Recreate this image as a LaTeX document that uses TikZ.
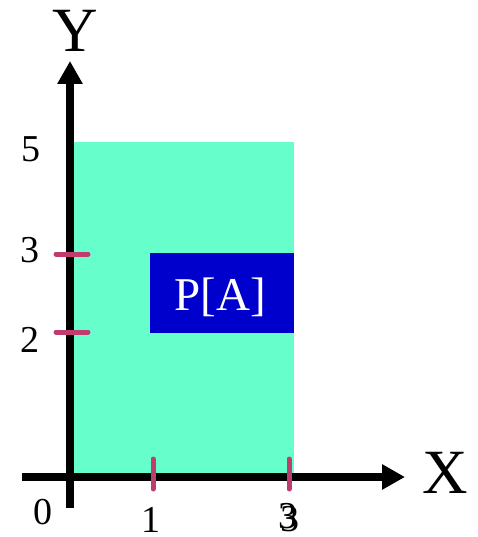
\documentclass[tikz,border=0pt]{standalone}
\usepackage{fontspec}
\setmainfont{Liberation Serif}
\usetikzlibrary{arrows.meta}
\definecolor{areagreen}{RGB}{102,255,204}
\definecolor{boxblue}{RGB}{0,0,204}
\definecolor{tickpink}{RGB}{190,60,110}
\tikzset{
  axis/.style={line width=8pt,-{Triangle[length=23pt,width=24pt]}},
  tickmark/.style={line width=5pt,tickpink,line cap=round},
  num/.style={inner sep=0pt,anchor=base,font=\fontsize{38pt}{38pt}\selectfont},
  axlabel/.style={inner sep=0pt,anchor=base,font=\fontsize{63pt}{63pt}\selectfont},
}
\begin{document}
\begin{tikzpicture}[x=1pt,y=-1pt]
\useasboundingbox (0,0) rectangle (477,537);
% areas
\fill[areagreen] (73,142) rectangle (294,474);
\node[fill=boxblue,minimum width=144pt,minimum height=80pt,inner sep=0pt,anchor=north west] (pa) at (150,253) {};
\node[inner sep=0pt,anchor=base,text=white,font=\fontsize{47pt}{47pt}\selectfont] (palabel) at (220,310.5) {P[A]};
% axes
\coordinate (ystart) at (70,508);
\coordinate (yend) at (70,61);
\coordinate (xstart) at (22,477);
\coordinate (xend) at (405,477);
\draw[axis] (ystart) -- (yend);
\draw[axis] (xstart) -- (xend);
% ticks
\coordinate (ty3a) at (56,254); \coordinate (ty3b) at (88,254);
\coordinate (ty2a) at (56,332); \coordinate (ty2b) at (88,332);
\coordinate (tx1a) at (153,459); \coordinate (tx1b) at (153,489);
\coordinate (tx3a) at (289,459); \coordinate (tx3b) at (289,489);
\draw[tickmark] (ty3a) -- (ty3b);
\draw[tickmark] (ty2a) -- (ty2b);
\draw[tickmark] (tx1a) -- (tx1b);
\draw[tickmark] (tx3a) -- (tx3b);
% labels
\node[axlabel] (ylab) at (75,52) {Y};
\node[axlabel] (xlab) at (445,493) {X};
\node[num] (l5) at (31,162) {5};
\node[num] (l3) at (30,262) {3};
\node[num] (l2) at (30,352) {2};
\node[num] (l0) at (43,524) {0};
\node[num] (lx1) at (151,532) {1};
\node[num] (lx3a) at (288,528) {3};
\node[num] (lx3b) at (290,531) {3};
\end{tikzpicture}
\end{document}
